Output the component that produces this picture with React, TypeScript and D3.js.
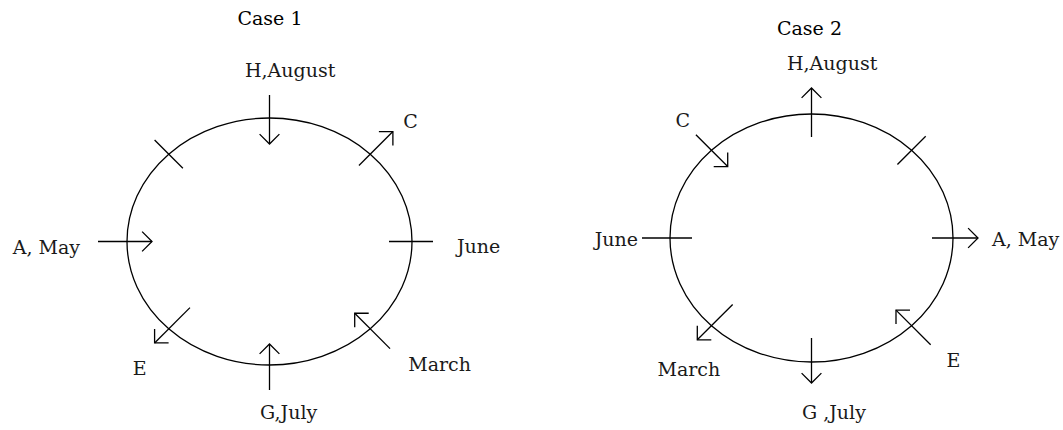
import React from 'react';
import * as d3 from 'd3';

// seats around the table, counted anticlockwise from the right (0 = right, 2 = top ...)
const seats = [0, 1, 2, 3, 4, 5, 6, 7];
const caseTitles = ['Case 1', 'Case 2'];

const case1Names = ['June', 'C', 'H,August', '', 'A, May', 'E', 'G,July', 'March'];
const case1Facing = ['none', 'out', 'in', 'none', 'in', 'out', 'in', 'in'];

const case2Names = ['A, May', '', 'H,August', 'C', 'June', 'March', 'G ,July', 'E'];
const case2Facing = ['out', 'none', 'out', 'in', 'none', 'out', 'out', 'in'];

const caseNames = [case1Names, case2Names];
const caseFacing = [case1Facing, case2Facing];

// drawing layout (tick lengths inside/outside the table, label offsets)
const layouts = [
  {
    cx: 269.5, cy: 241.5, rx: 142.5, ry: 123.5, title: [270, 25],
    ticks: [[23, 21], [16, 32], [26, 23], [20, 20], [25, 29], [30, 20], [21, 25], [22, 28]],
    labels: [[45, 11.5, 'start'], [33, -26, 'start'], [-24.5, -41, 'start'], [0, 0, 'start'],
      [-47, 12.5, 'end'], [-36, 46, 'start'], [-9.5, 54, 'start'], [38, 42, 'start']],
  },
  {
    cx: 811.5, cy: 238, rx: 141.5, ry: 124, title: [809.5, 35],
    ticks: [[21, 25], [20, 20], [23, 26], [23, 22], [22, 28], [30, 20], [24, 21], [22, 27]],
    labels: [[39, 8, 'start'], [0, 0, 'start'], [-24.5, -44, 'start'], [-36, -23, 'start'],
      [-32, 8, 'end'], [-54, 50, 'start'], [-9.5, 57, 'start'], [35, 41, 'start']],
  },
];

const W = 1063;
const H = 430;
const ink = '#000';
const font = '"DejaVu Serif", "Liberation Serif", serif';
const headLen = 14;

const seatAngle = d3.scaleLinear().domain([0, 8]).range([0, 2 * Math.PI]);

function arrowHead(tx: number, ty: number, ux: number, uy: number) {
  // open head, wings at 45 degrees behind the tip
  const wing = (s: number) => {
    const a = Math.PI / 4 * s;
    const bx = -(ux * Math.cos(a) - uy * Math.sin(a));
    const by = -(ux * Math.sin(a) + uy * Math.cos(a));
    return [tx + bx * headLen, ty + by * headLen];
  };
  const l = wing(1);
  const r = wing(-1);
  return `M${l[0]},${l[1]}L${tx},${ty}L${r[0]},${r[1]}`;
}

function Table({ idx }: { idx: number }) {
  const lay = layouts[idx];
  const names = caseNames[idx];
  const facing = caseFacing[idx];
  const x = d3.scaleLinear().domain([-1, 1]).range([lay.cx - lay.rx, lay.cx + lay.rx]);
  const y = d3.scaleLinear().domain([-1, 1]).range([lay.cy + lay.ry, lay.cy - lay.ry]);

  return (
    <g>
      <text x={lay.title[0]} y={lay.title[1]} textAnchor="middle" fontFamily={font}
        fontSize={19} fill={ink}>{caseTitles[idx]}</text>
      <ellipse cx={lay.cx} cy={lay.cy} rx={lay.rx} ry={lay.ry} fill="none"
        stroke={ink} strokeWidth={1.3} />
      {seats.map((s) => {
        const a = seatAngle(s);
        const px = x(Math.cos(a));
        const py = y(Math.sin(a));
        const ux = Math.round(Math.cos(a) * 1e6) / 1e6;
        const uy = -Math.round(Math.sin(a) * 1e6) / 1e6;
        const [inner, outer] = lay.ticks[s];
        const x0 = px - ux * inner, y0 = py - uy * inner;
        const x1 = px + ux * outer, y1 = py + uy * outer;
        const f = facing[s];
        const [dx, dy, anchor] = lay.labels[s];
        return (
          <g key={s}>
            <line x1={x0} y1={y0} x2={x1} y2={y1} stroke={ink} strokeWidth={1.3} />
            {f === 'out' && (
              <path d={arrowHead(x1, y1, ux, uy)} fill="none" stroke={ink} strokeWidth={1.3} />
            )}
            {f === 'in' && (
              <path d={arrowHead(x0, y0, -ux, -uy)} fill="none" stroke={ink} strokeWidth={1.3} />
            )}
            {names[s] && (
              <text x={px + (dx as number)} y={py + (dy as number)} textAnchor={anchor as string}
                fontFamily={font} fontSize={19} fill="#1a1a1a">{names[s]}</text>
            )}
          </g>
        );
      })}
    </g>
  );
}

export default function App() {
  return (
    <svg width={W} height={H} style={{ position: 'absolute', left: 0, top: 0, background: '#fff' }}>
      <rect width={W} height={H} fill="#fff" />
      <Table idx={0} />
      <Table idx={1} />
    </svg>
  );
}
